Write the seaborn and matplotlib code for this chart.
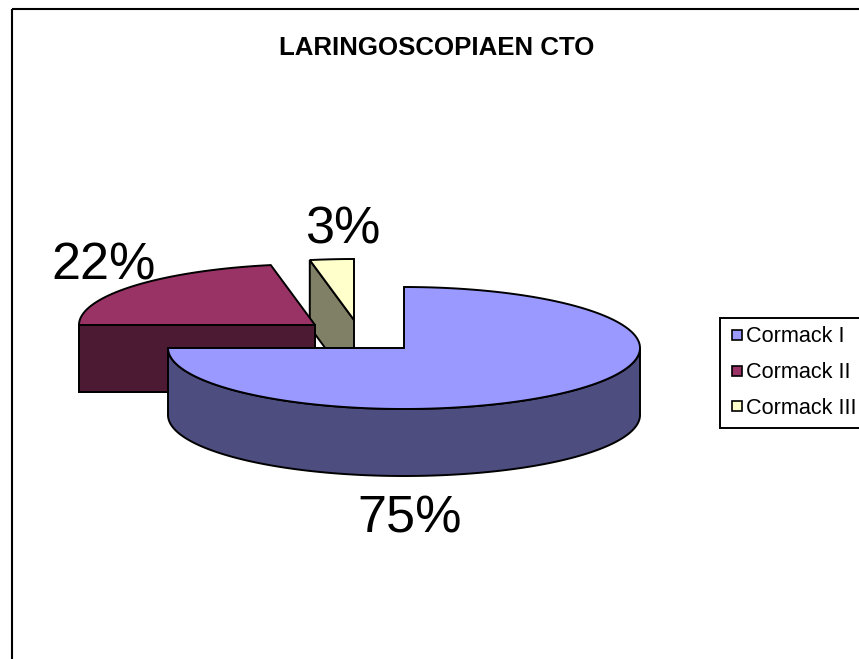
import numpy as np
import matplotlib
matplotlib.use("Agg")
import matplotlib.pyplot as plt
from matplotlib.lines import Line2D
from matplotlib.patches import Rectangle
import seaborn as sns

# Data
categories = ["Cormack I", "Cormack II", "Cormack III"]
shares = [75, 22, 3]
title = "LARINGOSCOPIAEN CTO"

# Colours
top_colors = sns.color_palette(["#9999FF", "#993366", "#FFFFCC"])
side_colors = sns.color_palette(["#4D4D80", "#4D1A33", "#808066"])

# Layout, axes run in image pixels
W, H = 859, 659
RX, RY = 236, 61
DEPTH = 67
centers = [(404, 348), (315, 325), (354, 320)]  # exploded slices
label_pos = [(410, 519), (104, 266), (343, 230)]

sns.set_theme(style="white")
plt.rcParams["font.family"] = ["Liberation Sans", "DejaVu Sans"]

fig = plt.figure(figsize=(W / 100, H / 100), dpi=100)
ax = fig.add_axes([0, 0, 1, 1])
ax.set_xlim(0, W)
ax.set_ylim(H, 0)
ax.axis("off")

# Outer chart frame, runs off the right and bottom
ax.add_patch(Rectangle((11.5, 8.5), W + 50, H + 50, fill=False, ec="black", lw=1.5, zorder=0))

# Slice angles, clockwise from 12 o'clock
ends = 90 - np.cumsum(shares) * 3.6
starts = np.r_[90, ends[:-1]]


def rim(cx, cy, a0, a1, dy=0):
    t = np.radians(np.linspace(a0, a1, 200))
    return cx + RX * np.cos(t), cy - RY * np.sin(t) + dy


def draw_slice(i, z):
    cx, cy = centers[i]
    a0, a1 = starts[i], ends[i]
    edge = dict(ec="black", lw=1.4, joinstyle="miter")

    # cut face on the trailing radius, seen when it points to the viewer
    for a in (a0, a1):
        px, py = rim(cx, cy, a, a)
        px, py = px[0], py[0]
        if (a == a0 and np.cos(np.radians(a)) < 0) or (a == a1 and np.cos(np.radians(a)) > 0):
            ax.fill([px, cx, cx, px], [py, cy, cy + DEPTH, py + DEPTH],
                    fc=side_colors[i], zorder=z, **edge)
    if i == 1:
        # the flat cut along the 9 o'clock radius
        ax.fill([cx - RX, cx, cx, cx - RX], [cy, cy, cy + DEPTH, cy + DEPTH],
                fc=side_colors[i], zorder=z, **edge)

    # outer wall, lower half of the rim only
    lo, hi = max(a1, -180), min(a0, 0)
    if lo < hi:
        x, y = rim(cx, cy, lo, hi)
        xb, yb = rim(cx, cy, hi, lo, DEPTH)
        ax.fill(np.r_[x, xb], np.r_[y, yb], fc=side_colors[i], zorder=z + 0.1, **edge)

    # top face
    x, y = rim(cx, cy, a0, a1)
    ax.fill(np.r_[cx, x], np.r_[cy, y], fc=top_colors[i], zorder=z + 0.2, **edge)


for i, z in zip([2, 1, 0], [1, 2, 3]):
    draw_slice(i, z)

for v, (lx, ly) in zip(shares, label_pos):
    ax.text(lx, ly, f"{v}%", ha="center", va="center", fontsize=37.5, color="black", zorder=5)

ax.text(437, 48, title, ha="center", va="center", fontsize=18.6, fontweight="bold", color="black")

handles = [Line2D([], [], ls="none", marker="s", ms=7.2, mfc=c, mec="black", mew=1.2) for c in top_colors]
leg = ax.legend(handles, categories, loc="upper left", bbox_to_anchor=(719.5, 317.5),
                bbox_transform=ax.transData, borderaxespad=0, fontsize=15.6, fancybox=False,
                framealpha=1, edgecolor="black", handlelength=0.8, numpoints=1,
                handletextpad=0.03, labelspacing=0.69, borderpad=0.4, labelcolor="black")
leg.get_frame().set_linewidth(1.4)
leg.set_zorder(6)

fig.savefig("out.png", dpi=100)
